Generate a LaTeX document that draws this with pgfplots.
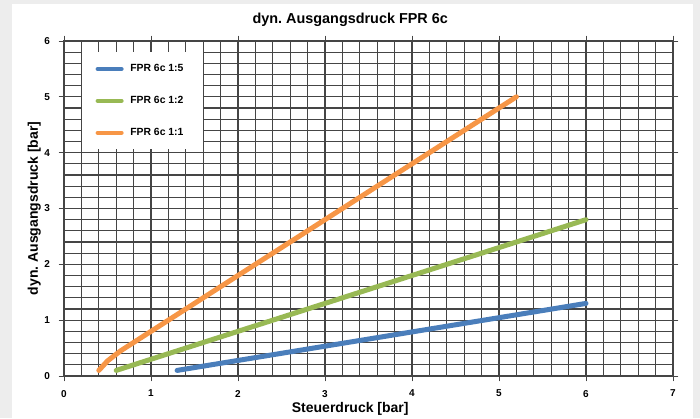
\documentclass[border=0pt]{standalone}
\usepackage{pgfplots}
\pgfplotsset{compat=1.18}
\usepackage{fontspec}
\setmainfont{Liberation Sans}

\definecolor{exblue}{HTML}{4A7EBB}
\definecolor{exgreen}{HTML}{98B954}
\definecolor{exorange}{HTML}{F79646}
\definecolor{gridc}{HTML}{454545}

\begin{document}
\begin{tikzpicture}
% Hintergrund (grauer Rand wie im Screenshot)
\fill[black!7] (-48pt,-31.5pt) rectangle (477pt,282pt);
\fill[white] (-39pt,-31.5pt) rectangle (471.75pt,279pt);

\begin{axis}[
    at={(0,0)}, anchor=south west,
    scale only axis,
    width=456.75pt, height=251.25pt,
    xmin=0, xmax=7, ymin=0, ymax=6,
    xtick={0,...,7}, ytick={0,...,6},
    minor x tick num=4, minor y tick num=4,
    grid=both,
    grid style={gridc, line width=0.85pt},
    minor grid style={gridc, line width=0.85pt},
    axis line style={gridc, line width=0.85pt},
    tick style={gridc, line width=0.6pt},
    tick align=outside,
    major tick length=4pt, minor tick length=0pt,
    /pgf/number format/assume math mode=true,
    ticklabel style={font=\bfseries\fontsize{7.5}{8}\selectfont},
    xticklabel style={yshift=-3pt},
    yticklabel style={xshift=-3pt},
    title={dyn.\ Ausgangsdruck FPR 6c},
    title style={font=\bfseries\fontsize{10.8}{12}\selectfont, at={(axis description cs:0.47,1)}, anchor=base, yshift=7.5pt},
    xlabel={Steuerdruck [bar]},
    xlabel style={font=\bfseries\fontsize{10.5}{12}\selectfont, at={(axis description cs:0.47,0)}, anchor=base, yshift=-27.5pt},
    ylabel={dyn.\ Ausgangsdruck [bar]},
    ylabel style={font=\bfseries\fontsize{10.5}{12}\selectfont, at={(axis description cs:0,0.5)}, anchor=base, yshift=19.5pt},
    legend style={at={(rel axis cs:0.0296,0.967)}, anchor=north west,
        draw=none, fill=white, inner xsep=10pt, inner ysep=7pt,
        font=\bfseries\fontsize{7.8}{8}\selectfont,
        row sep=13pt,
        nodes={inner xsep=5pt}},
    legend cell align=left,
    legend image code/.code={\draw[#1, line width=3pt, line cap=round] (0pt,0pt) -- (18pt,0pt);},
]
\addplot[exblue, line width=3.75pt, line cap=round] coordinates {
  (1.3,0.1) (6.0,1.3)
};
\addlegendentry{FPR 6c 1:5}
\addplot[exgreen, line width=3.75pt, line cap=round] coordinates {
  (0.6,0.1) (6.0,2.8)
};
\addlegendentry{FPR 6c 1:2}
\addplot[exorange, line width=3.75pt, line cap=round, line join=round] coordinates {
  (0.4,0.1) (0.5,0.27) (0.65,0.45) (1.0,0.8) (5.2,5.0)
};
\addlegendentry{FPR 6c 1:1}
\end{axis}

\pgfresetboundingbox
\path (-48pt,-31.5pt) rectangle (477pt,282pt);
\end{tikzpicture}
\end{document}
